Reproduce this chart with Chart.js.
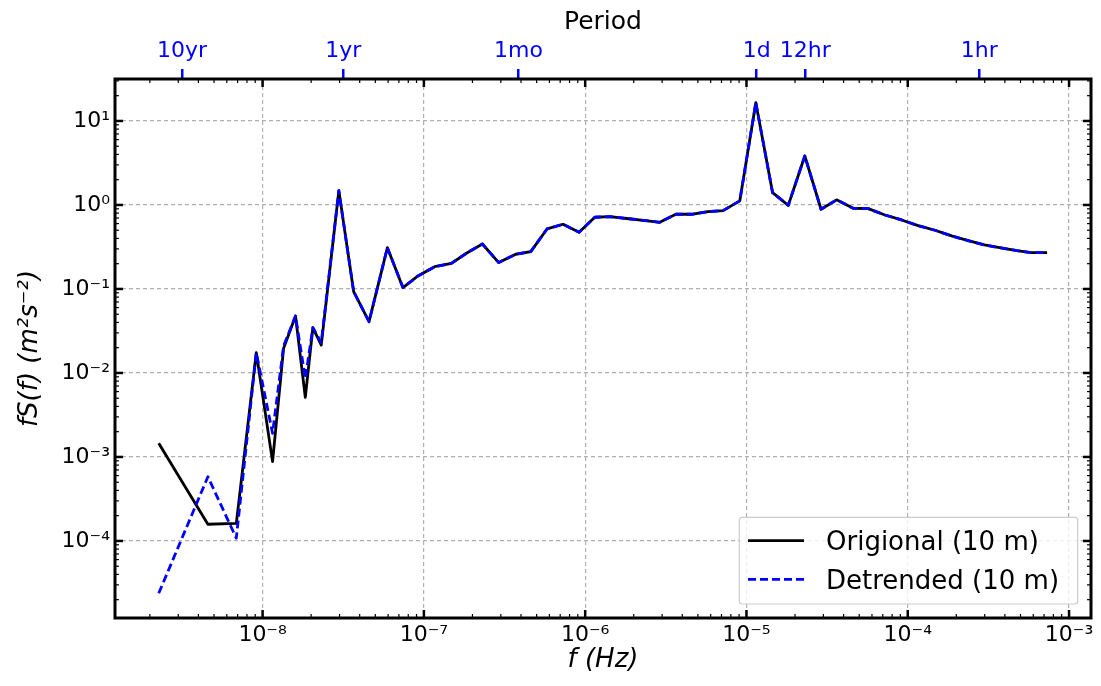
<!DOCTYPE html>
<html>
<head>
<meta charset="utf-8">
<script src="https://cdn.jsdelivr.net/npm/chart.js@4.4.0/dist/chart.umd.min.js"></script>
<style>
  html, body { margin: 0; padding: 0; background: #fff; }
</style>
</head>
<body>
<canvas id="myChart" width="1101" height="686"></canvas>
<script>
// frequencies (Hz)
const freqHz = [
	2.27e-9, 4.58e-9, 6.87e-9, 9.14e-9, 1.153e-8, 1.35e-8, 1.60e-8, 1.84e-8, 2.05e-8, 2.31e-8,
	2.97e-8, 3.67e-8, 4.57e-8, 5.94e-8, 7.42e-8, 9.19e-8, 1.167e-7, 1.481e-7, 1.835e-7, 2.306e-7,
	2.91e-7, 3.71e-7, 4.60e-7, 5.80e-7, 7.29e-7, 9.17e-7, 1.147e-6, 1.421e-6, 1.81e-6, 2.29e-6,
	2.90e-6, 3.65e-6, 4.56e-6, 5.78e-6, 7.16e-6, 9.09e-6, 1.143e-5, 1.452e-5, 1.816e-5, 2.30e-5,
	2.90e-5, 3.62e-5, 4.59e-5, 5.69e-5, 7.22e-5, 9.16e-5, 1.161e-4, 1.476e-4, 1.870e-4, 2.37e-4,
	2.99e-4, 3.78e-4, 4.75e-4, 5.81e-4, 7.31e-4
];

const original = [
	1.46e-3, 1.58e-4, 1.62e-4, 1.74e-2, 8.8e-4, 1.97e-2, 4.77e-2, 5.14e-3, 3.46e-2, 2.15e-2,
	1.48, 0.0929, 0.0408, 0.310, 0.1036, 0.143, 0.184, 0.202, 0.266, 0.343,
	0.206, 0.259, 0.278, 0.518, 0.589, 0.473, 0.714, 0.726, 0.69, 0.657,
	0.622, 0.775, 0.775, 0.832, 0.856, 1.12, 16.5, 1.40, 0.99, 3.83,
	0.889, 1.15, 0.914, 0.904, 0.760, 0.663, 0.567, 0.500, 0.428, 0.376,
	0.334, 0.308, 0.286, 0.271, 0.271
];

const detrended = [
	2.38e-5, 5.82e-4, 1.08e-4, 1.74e-2, 1.91e-3, 2.1e-2, 4.77e-2, 8.6e-3, 3.46e-2, 2.3e-2,
	1.48, 0.0929, 0.0408, 0.310, 0.1036, 0.143, 0.184, 0.202, 0.266, 0.343,
	0.206, 0.259, 0.278, 0.518, 0.589, 0.473, 0.714, 0.726, 0.69, 0.657,
	0.622, 0.775, 0.775, 0.832, 0.856, 1.12, 16.5, 1.40, 0.99, 3.83,
	0.889, 1.15, 0.914, 0.904, 0.760, 0.663, 0.567, 0.500, 0.428, 0.376,
	0.334, 0.308, 0.286, 0.271, 0.271
];

const seriesNames = ['Origional (10 m)', 'Detrended (10 m)'];

// tick labels: powers of ten shown on each axis
const xTickExps = [-8, -7, -6, -5, -4, -3];
const yTickExps = [-4, -3, -2, -1, 0, 1];

// secondary (period) axis
const periodLabels = ['10yr', '1yr', '1mo', '1d', '12hr', '1hr'];
const periodSeconds = [315576000, 31557600, 2592000, 86400, 43200, 3600];

const X_MIN = 1.216e-9, X_MAX = 1.368e-3;
const Y_MIN = 1.21e-5, Y_MAX = 31.6;

const FONT = 'DejaVu Sans';
Chart.defaults.font.family = FONT;
Chart.defaults.color = '#000';

const SUP = '⁻⁰¹²³⁴⁵⁶⁷⁸⁹';
const sup = s => String(s).replace(/[-0-9]/g, c => SUP['-0123456789'.indexOf(c)]);
const expOf = v => Math.round(Math.log10(v));
const isDecade = v => Math.abs(Math.log10(v) - expOf(v)) < 1e-6;

// 1..9 x 10^n ticks inside the range
function logTicks(scale) {
	const ticks = [];
	for (let e = Math.floor(Math.log10(scale.min)); e <= Math.ceil(Math.log10(scale.max)); e++) {
		for (let k = 1; k < 10; k++) {
			const v = k * Math.pow(10, e);
			if (v >= scale.min && v <= scale.max) ticks.push({ value: v, major: k === 1 });
		}
	}
	scale.ticks = ticks;
}

const gridStyle = {
	drawTicks: false,
	lineWidth: 1.2,
	color: c => (c.tick && c.tick.major) ? '#b0b0b0' : 'rgba(0,0,0,0)'
};

const framePlugin = {
	id: 'frame',
	afterDraw(chart) {
		const { ctx, chartArea: a, scales } = chart;
		const seg = (x1, y1, x2, y2, w) => {
			ctx.lineWidth = w;
			ctx.beginPath();
			ctx.moveTo(x1, y1);
			ctx.lineTo(x2, y2);
			ctx.stroke();
		};
		ctx.save();
		ctx.strokeStyle = '#000';
		ctx.setLineDash([]);

		// inward ticks on all four sides
		scales.x.ticks.forEach(t => {
			const px = scales.x.getPixelForValue(t.value);
			const len = t.major ? 8 : 4, w = t.major ? 2.5 : 1.2;
			seg(px, a.bottom, px, a.bottom - len, w);
			seg(px, a.top, px, a.top + len, w);
		});
		scales.y.ticks.forEach(t => {
			const py = scales.y.getPixelForValue(t.value);
			const len = t.major ? 8 : 4, w = t.major ? 2.5 : 1.2;
			seg(a.left, py, a.left + len, py, w);
			seg(a.right, py, a.right - len, py, w);
		});

		ctx.lineWidth = 3;
		ctx.strokeRect(a.left, a.top, a.right - a.left, a.bottom - a.top);

		// legend, lower right inside the axes
		const bx = a.right - 351.7, by = a.bottom - 100.7, bw = 338.4, bh = 86.7;
		ctx.fillStyle = 'rgba(255,255,255,0.8)';
		ctx.strokeStyle = '#cccccc';
		ctx.lineWidth = 1.2;
		ctx.beginPath();
		ctx.roundRect(bx, by, bw, bh, 3);
		ctx.fill();
		ctx.stroke();

		const rows = [by + 23.4, by + 62];
		ctx.font = '26px "' + FONT + '"';
		ctx.textBaseline = 'alphabetic';
		chart.data.datasets.forEach((ds, i) => {
			const y = rows[i];
			ctx.strokeStyle = ds.borderColor;
			ctx.setLineDash(ds.borderDash || []);
			seg(bx + 8.7, y, bx + 64.7, y, ds.borderWidth);
			ctx.setLineDash([]);
			ctx.fillStyle = '#000';
			ctx.fillText(ds.label, bx + 86.7, y + 9.5);
		});
		ctx.restore();
	}
};

const ctx = document.getElementById('myChart').getContext('2d');

let spectrumChart = new Chart(ctx, {
	type: 'line',
	data: {
		datasets: [{
			label: seriesNames[0],
			data: freqHz.map((f, i) => ({ x: f, y: original[i] })),
			borderColor: '#000000',
			borderWidth: 2.8,
			order: 2,
			xAxisID: 'x',
			yAxisID: 'y'
		}, {
			label: seriesNames[1],
			data: freqHz.map((f, i) => ({ x: f, y: detrended[i] })),
			borderColor: '#0000ff',
			borderWidth: 2.8,
			borderDash: [8, 4],
			order: 1,
			xAxisID: 'x',
			yAxisID: 'y'
		}]
	},
	options: {
		responsive: false,
		animation: false,
		layout: { padding: { left: 0, right: 10, top: 0, bottom: 0 } },
		elements: {
			point: { radius: 0 },
			line: { tension: 0, borderJoinStyle: 'round' }
		},
		plugins: {
			legend: { display: false },
			tooltip: { enabled: false }
		},
		scales: {
			x: {
				type: 'logarithmic',
				position: 'bottom',
				min: X_MIN,
				max: X_MAX,
				afterBuildTicks: logTicks,
				afterFit: s => { s.height = 68; },
				border: { display: false, dash: [4, 3] },
				grid: gridStyle,
				ticks: {
					autoSkip: false,
					maxRotation: 0,
					padding: 4,
					font: { size: 22 },
					callback: v => (isDecade(v) && xTickExps.includes(expOf(v))) ? '10' + sup(expOf(v)) : ''
				},
				title: {
					display: true,
					text: 'f (Hz)',
					font: { size: 26, style: 'italic', lineHeight: 1 },
					padding: { top: 0, bottom: 13 }
				}
			},
			x2: {
				type: 'logarithmic',
				position: 'top',
				min: X_MIN,
				max: X_MAX,
				afterBuildTicks: s => { s.ticks = periodSeconds.map(p => ({ value: 1 / p })); },
				afterFit: s => { s.height = 79; },
				border: { display: false },
				grid: { drawOnChartArea: false, drawTicks: true, tickLength: 10, color: '#0000ff', lineWidth: 2.5 },
				ticks: {
					autoSkip: false,
					maxRotation: 0,
					padding: 5,
					color: '#0000ff',
					font: { size: 22 },
					callback: (v, i) => periodLabels[i]
				},
				title: {
					display: true,
					text: 'Period',
					font: { size: 25, lineHeight: 1 },
					padding: { top: 10, bottom: 0 }
				}
			},
			y: {
				type: 'logarithmic',
				position: 'left',
				min: Y_MIN,
				max: Y_MAX,
				afterBuildTicks: logTicks,
				afterFit: s => { s.width = 115; },
				border: { display: false, dash: [4, 3] },
				grid: gridStyle,
				ticks: {
					autoSkip: false,
					padding: 5,
					font: { size: 22 },
					callback: v => (isDecade(v) && yTickExps.includes(expOf(v))) ? '10' + sup(expOf(v)) : ''
				},
				title: {
					display: true,
					text: 'fS(f) (m²s⁻²)',
					font: { size: 26, style: 'italic', lineHeight: 1 },
					padding: { top: 17, bottom: 0 }
				}
			}
		}
	},
	plugins: [framePlugin]
});
</script>
</body>
</html>
